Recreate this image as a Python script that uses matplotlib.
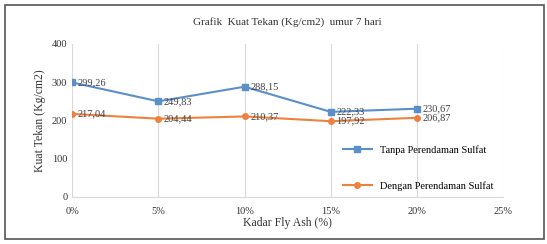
import matplotlib.pyplot as plt
from matplotlib.patches import Rectangle

kadar = [0, 5, 10, 15, 20]
tanpa = [299.26, 249.83, 288.15, 222.33, 230.67]
dengan = [217.04, 204.44, 210.37, 197.92, 206.87]
xtick_vals = [0, 5, 10, 15, 20, 25]
xtick_labels = ['0%', '5%', '10%', '15%', '20%', '25%']

plt.rcParams['font.family'] = ['Liberation Serif', 'DejaVu Serif']

fig = plt.figure(figsize=(5.47, 2.44), dpi=100)
ax = fig.add_axes([0.132, 0.193, 0.788, 0.627])

blue = '#5b8fc9'
orange = '#ee8040'
ax.plot(kadar, tanpa, '-s', color=blue, lw=1.5, ms=4, label='Tanpa Perendaman Sulfat')
ax.plot(kadar, dengan, '-o', color=orange, lw=1.5, ms=4, label='Dengan Perendaman Sulfat')

for x, y in zip(kadar, tanpa):
    ax.annotate(('%.2f' % y).replace('.', ','), (x, y), xytext=(4, 0),
                textcoords='offset points', fontsize=7.5, va='center', color='#404040')
for x, y in zip(kadar, dengan):
    ax.annotate(('%.2f' % y).replace('.', ','), (x, y), xytext=(4, 0),
                textcoords='offset points', fontsize=7.5, va='center', color='#404040')

ax.set_xlim(0, 25)
ax.set_ylim(0, 400)
ax.set_xticks(xtick_vals)
ax.set_xticklabels(xtick_labels)
ax.set_yticks([0, 100, 200, 300, 400])
ax.tick_params(labelsize=7.5, length=0, colors='#333333')
ax.tick_params(axis='x', pad=7)
ax.grid(axis='x', color='#d9d9d9', lw=0.8)
for s in ['top', 'right', 'left']:
    ax.spines[s].set_visible(False)
ax.spines['bottom'].set_color('#d9d9d9')

ax.set_title('Grafik  Kuat Tekan (Kg/cm2)  umur 7 hari', fontsize=8, color='#333333', pad=14)
ax.set_xlabel('Kadar Fly Ash (%)', fontsize=8.5, color='#333333', labelpad=1)
ax.set_ylabel('Kuat Tekan (Kg/cm2)', fontsize=8.5, color='#333333')

ax.legend(loc='lower right', bbox_to_anchor=(1.0, -0.02), frameon=False, fontsize=7.5,
          labelspacing=2.5, handlelength=2.8)

fig.patches.append(Rectangle((0.01, 0.02), 0.985, 0.96, transform=fig.transFigure,
                             fill=False, edgecolor='#555555', lw=1.2))

plt.savefig('out.png', dpi=100)
